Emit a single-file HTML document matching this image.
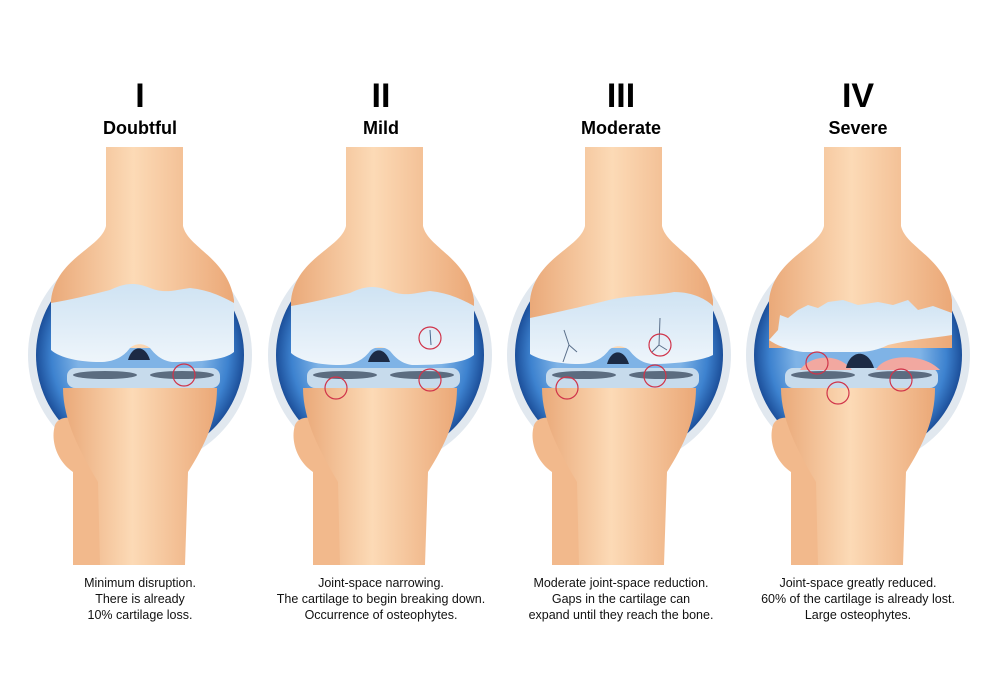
<!DOCTYPE html>
<html><head><meta charset="utf-8"><style>
html,body{margin:0;padding:0;background:#fff;}
svg{display:block;}
text{font-family:"Liberation Sans",sans-serif;}
</style></head><body>
<svg width="1000" height="698" viewBox="0 0 1000 698" xmlns="http://www.w3.org/2000/svg">
<defs>
<radialGradient id="blue" cx="0.5" cy="0.5" r="0.5">
<stop offset="0.6" stop-color="#7fb3e6"/><stop offset="0.85" stop-color="#3d82cf"/><stop offset="1" stop-color="#1c4f9a"/>
</radialGradient>
<linearGradient id="bone" x1="0" x2="1" y1="0" y2="0">
<stop offset="0" stop-color="#eaa979"/><stop offset="0.45" stop-color="#fcdab6"/><stop offset="1" stop-color="#eba877"/>
</linearGradient>
<linearGradient id="cart" x1="0" x2="0" y1="0" y2="1">
<stop offset="0" stop-color="#cfe3f3"/><stop offset="1" stop-color="#eef5fb"/>
</linearGradient>
<g id="base">
<circle cx="140" cy="355" r="112" fill="#e1e8ef"/>
<circle cx="140" cy="355" r="104" fill="url(#blue)"/>
<path d="M106,147 L183,147 L183,226 C188,248 228,258 234,300 L234,348 L51,348 L51,300 C56,258 101,248 106,226 Z" fill="url(#bone)"/>
<path d="M55,425 C60,413 82,416 90,432 L100,452 L100,565 L73,565 L73,472 C58,462 50,442 55,425 Z" fill="#f2b98c"/>
<path d="M63,388 L217,388 C217,420 205,445 188,472 L185,565 L100,565 L98,482 C80,452 63,420 63,388 Z" fill="url(#bone)"/>
<rect x="67" y="368" width="153" height="20" rx="8" fill="#c7dbec"/>
<ellipse cx="105" cy="375" rx="32" ry="4" fill="#5b6c80"/>
<ellipse cx="182" cy="375" rx="32" ry="4" fill="#5b6c80"/>
</g>
<path id="cartA" d="M51,303 C70,300 90,295 110,290 C125,283 135,282 150,288 C165,294 175,290 190,288 C210,290 225,298 234,303 L234,352 C225,360 200,362 172,362 C160,360 155,354 150,348 C144,343 135,343 130,348 C124,356 115,362 100,362 C80,362 60,358 51,350 Z" fill="url(#cart)"/>
</defs>

<text x="140" y="107" font-size="34" font-weight="bold" text-anchor="middle">I</text>
<text x="140" y="134" font-size="18" font-weight="bold" text-anchor="middle">Doubtful</text>
<text x="381" y="107" font-size="34" font-weight="bold" text-anchor="middle">II</text>
<text x="381" y="134" font-size="18" font-weight="bold" text-anchor="middle">Mild</text>
<text x="621" y="107" font-size="34" font-weight="bold" text-anchor="middle">III</text>
<text x="621" y="134" font-size="18" font-weight="bold" text-anchor="middle">Moderate</text>
<text x="858" y="107" font-size="34" font-weight="bold" text-anchor="middle">IV</text>
<text x="858" y="134" font-size="18" font-weight="bold" text-anchor="middle">Severe</text>

<use href="#base"/>
<use href="#cartA"/>
<path d="M128,360 C132,345 145,344 150,360 Z" fill="#1c2a44"/>
<circle cx="184" cy="375" r="11" fill="none" stroke="#d0344a" stroke-width="1.2"/>

<g transform="translate(240,0)">
<use href="#base"/>
<use href="#cartA" transform="translate(0,3)"/>
<path d="M128,362 C132,347 145,346 150,362 Z" fill="#1c2a44"/>
<path d="M190,330 L191,345" stroke="#4a6a90" stroke-width="1"/>
<circle cx="190" cy="338" r="11" fill="none" stroke="#d0344a" stroke-width="1.2"/>
<circle cx="96" cy="388" r="11" fill="none" stroke="#d0344a" stroke-width="1.2"/>
<circle cx="190" cy="380" r="11" fill="none" stroke="#d0344a" stroke-width="1.2"/>
</g>

<g transform="translate(479,0)">
<use href="#base"/>
<path d="M51,318 C80,312 110,305 130,300 C150,295 175,296 195,292 C215,292 228,300 234,306 L234,355 C225,360 200,364 172,364 C160,362 155,356 150,350 C144,345 135,345 130,350 C124,358 115,364 100,364 C80,364 60,360 51,354 Z" fill="url(#cart)"/>
<path d="M128,364 C132,349 145,348 150,364 Z" fill="#1c2a44"/>
<path d="M85,330 L90,345 L84,362 M90,345 L98,352" stroke="#5a6f8a" stroke-width="1" fill="none"/>
<path d="M181,318 L180,345 L173,352 M180,345 L188,350" stroke="#5a6f8a" stroke-width="1" fill="none"/>
<circle cx="181" cy="345" r="11" fill="none" stroke="#d0344a" stroke-width="1.2"/>
<circle cx="176" cy="376" r="11" fill="none" stroke="#d0344a" stroke-width="1.2"/>
<circle cx="88" cy="388" r="11" fill="none" stroke="#d0344a" stroke-width="1.2"/>
</g>

<g transform="translate(718,0)">
<use href="#base"/>
<path d="M82,370 C92,355 120,352 134,370 Z M158,370 C165,354 205,352 222,370 Z" fill="#f2a8a0"/>
<path d="M51,340 L60,330 L62,315 L70,318 L80,310 L90,305 L100,308 L110,302 L125,300 L140,305 L160,302 L175,305 L190,300 L200,310 L215,306 L234,313 L234,335 C215,338 190,340 170,345 C160,350 150,352 140,352 C120,352 100,352 85,352 C70,350 58,345 51,340 Z" fill="url(#cart)"/>
<path d="M128,368 C132,350 150,348 156,368 Z" fill="#1c2a44"/>
<circle cx="99" cy="363" r="11" fill="none" stroke="#d0344a" stroke-width="1.2"/>
<circle cx="183" cy="380" r="11" fill="none" stroke="#d0344a" stroke-width="1.2"/>
<circle cx="120" cy="393" r="11" fill="none" stroke="#d0344a" stroke-width="1.2"/>
</g>

<g font-size="12.5" text-anchor="middle" fill="#111">
<text x="140" y="587">Minimum disruption.</text>
<text x="140" y="603">There is already</text>
<text x="140" y="619">10% cartilage loss.</text>
<text x="381" y="587">Joint-space narrowing.</text>
<text x="381" y="603">The cartilage to begin breaking down.</text>
<text x="381" y="619">Occurrence of osteophytes.</text>
<text x="621" y="587">Moderate joint-space reduction.</text>
<text x="621" y="603">Gaps in the cartilage can</text>
<text x="621" y="619">expand until they reach the bone.</text>
<text x="858" y="587">Joint-space greatly reduced.</text>
<text x="858" y="603">60% of the cartilage is already lost.</text>
<text x="858" y="619">Large osteophytes.</text>
</g>
</svg>
</body></html>
